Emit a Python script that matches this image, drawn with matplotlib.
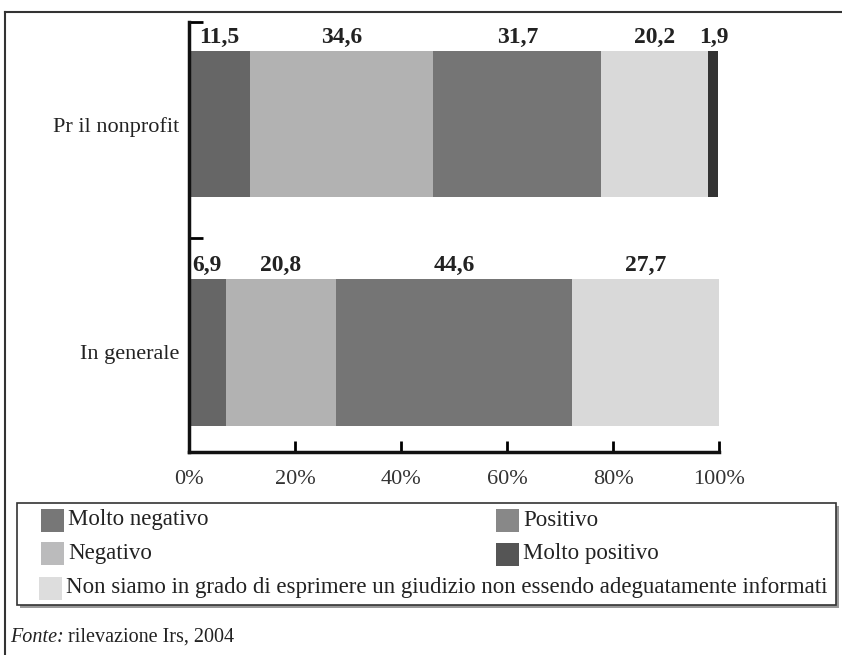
import matplotlib
matplotlib.use("Agg")
import matplotlib.pyplot as plt
from matplotlib.patches import Rectangle
from matplotlib.lines import Line2D

plt.rcParams['font.family'] = ['Liberation Serif', 'DejaVu Serif']

categories = ["In generale", "Pr il nonprofit"]
series = ["Molto negativo", "Negativo", "Positivo",
          "Non siamo in grado di esprimere un giudizio non essendo adeguatamente informati",
          "Molto positivo"]
values = {
    "Molto negativo": [6.9, 11.5],
    "Negativo": [20.8, 34.6],
    "Positivo": [44.6, 31.7],
    "Non siamo in grado di esprimere un giudizio non essendo adeguatamente informati": [27.7, 20.2],
    "Molto positivo": [0.0, 1.9],
}
bar_colors = ["#666666", "#b2b2b2", "#757575", "#d9d9d9", "#333333"]
legend_colors = ["#777777", "#bbbbbc", "#888888", "#dddddd", "#555555"]
xticks = [0, 20, 40, 60, 80, 100]
source_note = "rilevazione Irs, 2004"

W, H = 842, 655
fig = plt.figure(figsize=(W / 100, H / 100), dpi=100)


def fx(px):
    return px / W


def fy(py):
    return 1 - py / H


ax = fig.add_axes([fx(189), fy(452), fx(719) - fx(189), fy(22) - fy(452)])

ypos = [0, 1]
left = [0.0, 0.0]
for name, col in zip(series, bar_colors):
    vals = values[name]
    ax.barh(ypos, vals, left=left, height=0.64, color=col, edgecolor="none")
    for y, v, l in zip(ypos, vals, left):
        if v > 0:
            ax.text(l + v / 2, y + 0.335, f"{v:.1f}".replace(".", ","),
                    ha="center", va="bottom", fontsize=17, fontweight="bold",
                    color="#222222")
    left = [a + b for a, b in zip(left, vals)]

ax.set_xlim(0, 100)
ax.set_ylim(-0.436, 1.447)
for s in ("top", "right"):
    ax.spines[s].set_visible(False)
for s in ("left", "bottom"):
    ax.spines[s].set_linewidth(2.5)
    ax.spines[s].set_color("#111111")

ax.set_xticks(xticks)
ax.set_xticklabels([f"{t}%" for t in xticks], fontsize=16, color="#333333")
ax.tick_params(axis="x", direction="in", length=8, width=2, pad=13)

ax.set_yticks(ypos)
ax.set_yticklabels(categories, fontsize=16, color="#222222")
ax.tick_params(axis="y", which="major", length=0, pad=7)
ax.set_yticks([-0.436, 0.5, 1.447], minor=True)
ax.tick_params(axis="y", which="minor", direction="in", length=10, width=2)

# outer frame: top and left rules
fig.add_artist(Line2D([fx(5), 1], [fy(12), fy(12)], color="#333333", lw=1.5))
fig.add_artist(Line2D([fx(5), fx(5)], [fy(12), 0], color="#333333", lw=1.5))

# legend box with shadow
fig.add_artist(Rectangle((fx(20), fy(608)), fx(839) - fx(20), fy(506) - fy(608),
                         transform=fig.transFigure, facecolor="#999999",
                         edgecolor="none"))
fig.add_artist(Rectangle((fx(17), fy(605)), fx(836) - fx(17), fy(503) - fy(605),
                         transform=fig.transFigure, facecolor="white",
                         edgecolor="#333333", lw=1.2))

legend_slots = {
    "Molto negativo": (41, 520),
    "Negativo": (41, 553),
    "Positivo": (496, 520),
    "Molto positivo": (496, 554),
    "Non siamo in grado di esprimere un giudizio non essendo adeguatamente informati": (39, 588),
}
for name, col in zip(series, legend_colors):
    x0, yc = legend_slots[name]
    fig.add_artist(Rectangle((fx(x0), fy(yc + 11.5)), fx(23), 23 / H,
                             transform=fig.transFigure, facecolor=col,
                             edgecolor="none"))
    fig.text(fx(x0 + 27), fy(yc), name, ha="left", va="center",
             fontsize=16.5, color="#222222")

fonte = fig.text(fx(10), fy(637), "Fonte:", style="italic", ha="left",
                 va="center", fontsize=14.5, color="#222222")
ax.annotate(source_note, xy=(1, 0), xycoords=fonte, xytext=(3, 0),
            textcoords="offset points", ha="left", va="bottom",
            fontsize=14.5, color="#222222", annotation_clip=False)

fig.savefig("out.png", dpi=100)
